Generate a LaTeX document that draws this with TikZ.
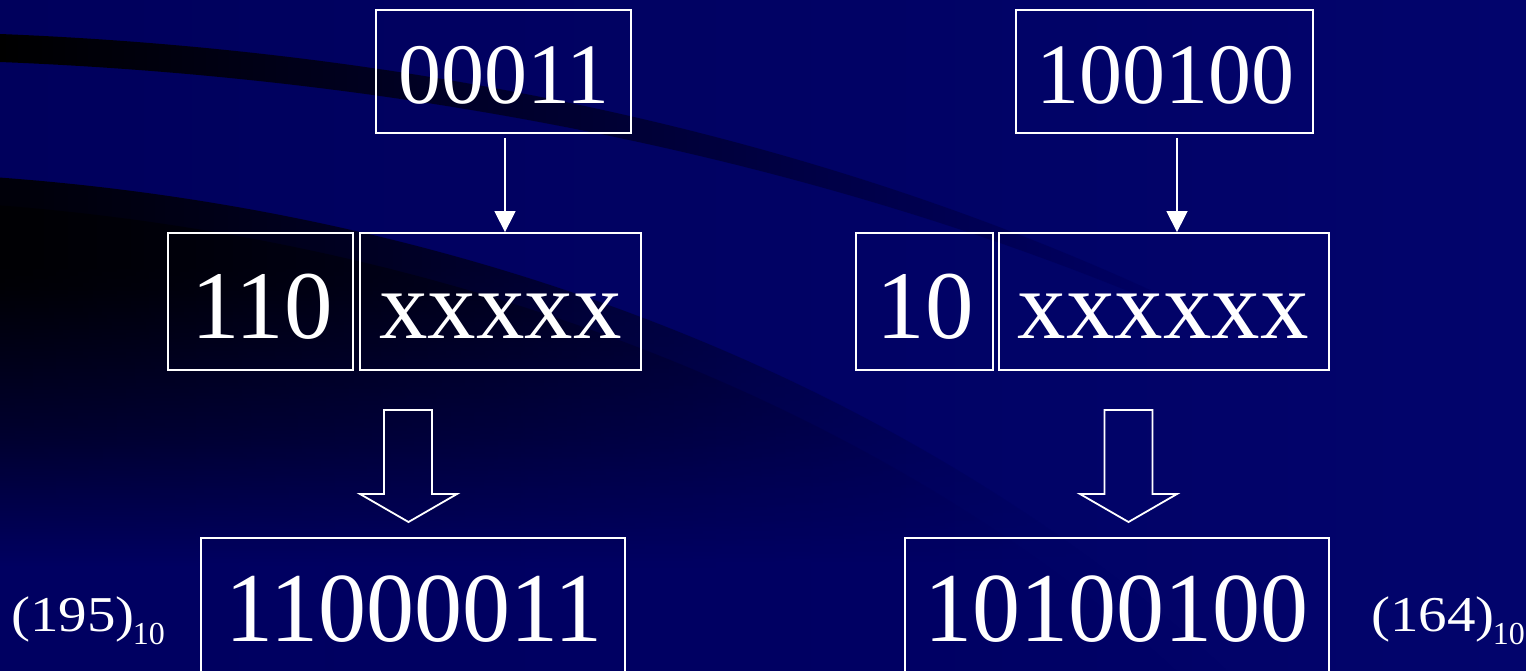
\documentclass[tikz,border=0pt]{standalone}
\usepackage{fontspec}
\setmainfont{Liberation Serif}
\usetikzlibrary{arrows.meta,fadings}
\definecolor{bgL}{RGB}{0,0,92}
\definecolor{bgR}{RGB}{2,4,108}
\definecolor{bg}{RGB}{0,0,98}
\newcommand\fTop{\fontsize{86}{86}\selectfont}
\newcommand\fMid{\fontsize{97}{97}\selectfont}
\newcommand\fBot{\fontsize{96}{96}\selectfont}
\newcommand\fLab{\fontsize{57}{57}\selectfont}
\newcommand\fSub{\fontsize{32}{32}\selectfont}
\newcommand\declab[1]{\scalebox{1}[0.88]{#1}\kern-2pt\raisebox{-13pt}{\fSub 10}}
\pgfdeclareverticalshading{bandtwo}{100bp}{color(0bp)=(bg); color(36bp)=(bg); color(50bp)=(bg!45!black); color(66bp)=(black); color(100bp)=(black)}
\tikzfading[name=fadeR, left color=transparent!0, middle color=transparent!35, right color=transparent!100]
\begin{document}
\begin{tikzpicture}[x=1pt,y=-1pt,
  box/.style={draw=white,line width=1.8pt,inner sep=0pt,rectangle},
  txt/.style={text=white,inner sep=0pt,anchor=base},
  thinarrow/.style={draw=white,line width=1.5pt,-{Triangle[width=21pt,length=21pt]}},
  hollow/.style={draw=white,line width=1.8pt,line join=miter}]
\useasboundingbox (0,0) rectangle (1526,671);
\clip (0,0) rectangle (1526,671);
% background
\shade[left color=bgL,right color=bgR] (0,0) rectangle (1526,671);
% band 1
\shade[left color=black, middle color=bg!40!black, right color=bg]
  (0,34) .. controls (400,50) and (800,130) .. (1150,290) -- (1150,300)
  .. controls (800,155) and (400,78) .. (0,62) -- cycle;
% band 2 (outer)
\shade[shading=bandtwo, path fading=fadeR, opacity=0.9]
  (0,177) .. controls (450,210) and (900,370) .. (1230,671) -- (0,671) -- cycle;
% band 2 (inner)
\shade[shading=bandtwo, path fading=fadeR, opacity=0.6]
  (0,205) .. controls (450,240) and (880,400) .. (1180,671) -- (0,671) -- cycle;

% boxes
\node[box, minimum width=255pt, minimum height=123pt] (top1) at (503.5,71.5) {};
\node[box, minimum width=297pt, minimum height=123pt] (top2) at (1164.5,71.5) {};
\node[box, minimum width=185pt, minimum height=137pt] (pre1) at (260.5,301.5) {};
\node[box, minimum width=281pt, minimum height=137pt] (pay1) at (500.5,301.5) {};
\node[box, minimum width=137pt, minimum height=137pt] (pre2) at (924.5,301.5) {};
\node[box, minimum width=330pt, minimum height=137pt] (pay2) at (1164,301.5) {};
\node[box, minimum width=424pt, minimum height=170pt] (res1) at (413,623) {};
\node[box, minimum width=424pt, minimum height=170pt] (res2) at (1117,623) {};

% texts
\node[txt, font=\fTop] (t1) at (504,104) {00011};
\node[txt, font=\fTop] (t2) at (1165,104) {100100};
\node[txt, font=\fMid] (m1) at (262,338) {110};
\node[txt, font=\fMid] (m2) at (500.5,338) {xxxxx};
\node[txt, font=\fMid] (m3) at (925,338) {10};
\node[txt, font=\fMid] (m4) at (1163,338) {xxxxxx};
\node[txt, font=\fBot] (b1) at (414,641.5) {\scalebox{1}[1.03]{11000011}};
\node[txt, font=\fBot] (b2) at (1116,641.5) {\scalebox{1}[1.03]{10100100}};
\node[txt, anchor=base west, font=\fLab] (d1) at (11.3,631) {\declab{(195)}};
\node[txt, anchor=base west, font=\fLab] (d2) at (1371.3,631) {\declab{(164)}};

% thin arrows
\draw[thinarrow] ([xshift=1.5pt,yshift=-4pt]top1.south) -- ([xshift=4.5pt]pay1.north);
\draw[thinarrow] ([xshift=12.5pt,yshift=-4pt]top2.south) -- ([xshift=13pt]pay2.north);

% hollow arrows
\draw[hollow] (384,410) -- (432,410) -- (432,494) -- (457,494) -- (408.5,522)
  -- (360,494) -- (384,494) -- cycle;
\draw[hollow] (1104.5,410) -- (1152.5,410) -- (1152.5,494) -- (1177,494) -- (1128.5,522)
  -- (1080,494) -- (1104.5,494) -- cycle;
\end{tikzpicture}
\end{document}
